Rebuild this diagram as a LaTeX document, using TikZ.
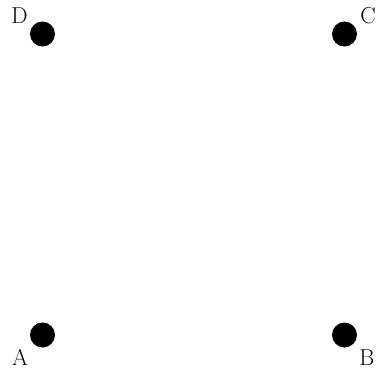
\documentclass[tikz,border=0pt]{standalone}
\usepackage{fontspec}
\begin{document}
\begin{tikzpicture}[x=1pt,y=-1pt,
  pt/.style={circle,fill=black,inner sep=0pt,minimum size=25pt},
  lbl/.style={inner sep=0pt,font=\fontsize{23}{27}\selectfont}]
\useasboundingbox (0,0) rectangle (376,375);
\node[pt] (D) at (42.5,34) {};
\node[pt] (C) at (344.5,34) {};
\node[pt] (A) at (42.5,335) {};
\node[pt] (B) at (344.5,335) {};
\node[lbl] (lD) at (19.5,16) {D};
\node[lbl] (lC) at (368,16) {C};
\node[lbl] (lA) at (20,357) {A};
\node[lbl] (lB) at (367,358) {B};
\end{tikzpicture}
\end{document}
